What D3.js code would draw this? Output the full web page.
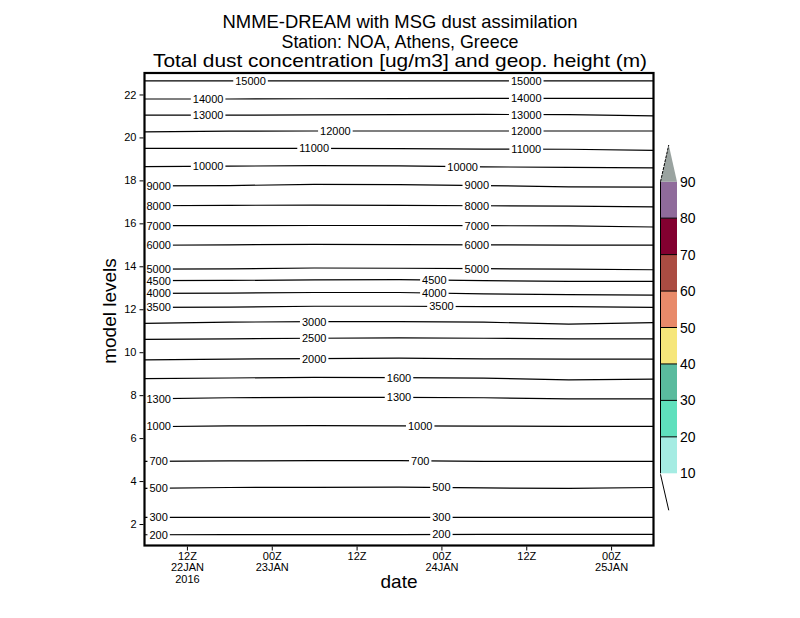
<!DOCTYPE html>
<html>
<head>
<meta charset="utf-8">
<script src="https://cdn.jsdelivr.net/npm/d3@7"></script>
<style>
  body { margin: 0; background: #fff; }
  svg text { font-family: "Liberation Sans", "DejaVu Sans", sans-serif; }
</style>
</head>
<body>
<script>
// sample times (12-hourly) and tick times
var sampleTimes = ["2016-01-22T06:00Z", "2016-01-22T18:00Z", "2016-01-23T06:00Z", "2016-01-23T18:00Z",
	"2016-01-24T06:00Z", "2016-01-24T18:00Z", "2016-01-25T06:00Z"].map(d => new Date(d));

var tickTimes = ["2016-01-22T12:00Z", "2016-01-23T00:00Z", "2016-01-23T12:00Z",
	"2016-01-24T00:00Z", "2016-01-24T12:00Z", "2016-01-25T00:00Z"].map(d => new Date(d));
var tickLabels = [["12Z", "22JAN", "2016"], ["00Z", "23JAN"], ["12Z"], ["00Z", "24JAN"], ["12Z"], ["00Z", "25JAN"]];

var levelTicks = [2, 4, 6, 8, 10, 12, 14, 16, 18, 20, 22];

// geopotential height contours: value, model level at each sample time
var contourValues = [15000, 14000, 13000, 12000, 11000, 10000, 9000, 8000, 7000, 6000, 5000,
	4500, 4000, 3500, 3000, 2500, 2000, 1600, 1300, 1000, 700, 500, 300, 200];

var contourLevels = [
	[22.63, 22.63, 22.63, 22.63, 22.63, 22.63, 22.63],
	[21.79, 21.79, 21.80, 21.81, 21.82, 21.82, 21.82],
	[21.04, 21.04, 21.05, 21.06, 21.07, 21.06, 21.00],
	[20.26, 20.29, 20.30, 20.30, 20.30, 20.30, 20.30],
	[19.49, 19.49, 19.49, 19.48, 19.46, 19.45, 19.40],
	[18.64, 18.66, 18.69, 18.68, 18.63, 18.61, 18.58],
	[17.74, 17.76, 17.81, 17.80, 17.76, 17.70, 17.69],
	[16.82, 16.84, 16.85, 16.84, 16.82, 16.80, 16.77],
	[15.89, 15.89, 15.90, 15.90, 15.89, 15.88, 15.83],
	[14.98, 15.00, 15.02, 15.01, 15.00, 14.99, 14.99],
	[13.87, 13.88, 13.92, 13.91, 13.89, 13.87, 13.84],
	[13.33, 13.34, 13.37, 13.38, 13.33, 13.30, 13.30],
	[12.74, 12.75, 12.78, 12.78, 12.72, 12.68, 12.66],
	[12.09, 12.10, 12.14, 12.14, 12.12, 12.12, 12.09],
	[11.34, 11.40, 11.42, 11.42, 11.40, 11.31, 11.38],
	[10.60, 10.62, 10.65, 10.67, 10.65, 10.62, 10.62],
	[9.64, 9.68, 9.70, 9.72, 9.69, 9.68, 9.68],
	[8.77, 8.80, 8.83, 8.82, 8.79, 8.71, 8.75],
	[7.83, 7.88, 7.90, 7.90, 7.88, 7.83, 7.83],
	[6.53, 6.57, 6.58, 6.57, 6.56, 6.55, 6.55],
	[4.92, 4.94, 4.95, 4.95, 4.92, 4.92, 4.92],
	[3.66, 3.70, 3.71, 3.72, 3.68, 3.66, 3.70],
	[2.31, 2.31, 2.31, 2.31, 2.31, 2.31, 2.31],
	[1.50, 1.51, 1.51, 1.51, 1.52, 1.52, 1.52]
];

// where the contour labels sit (hours after the first sample)
var labelHours = [
	[15.2, 54.1], [9.3, 54.1], [9.3, 54.1], [27.2, 54.1], [24.4, 54.1], [9.3, 45],
	[2.9, 47.8], [2.9, 47.8], [2.9, 47.8], [2.9, 47.8], [2.9, 47.8],
	[2.9, 41.4], [2.9, 41.4], [2.9, 42.1], [24.1], [24.1], [24.1], [36.1],
	[2.9, 36.1], [2.9, 39], [2.9, 39], [2.9, 42.1], [2.9, 42.1], [2.9, 42.1]
];

// dust concentration colour bar
var dustBreaks = [10, 20, 30, 40, 50, 60, 70, 80, 90];
var dustColors = ["#a5ece3", "#5fe0bd", "#5abb9e", "#f6e67a", "#e88a6a", "#ab4c42", "#830030", "#8f6b9b"];
var dustTopColor = "#9aa3a0";

var width = 800, height = 618;
var plot = {left: 144.5, right: 653.5, top: 73, bottom: 545.5};

var svg = d3.select("body").append("svg")
	.attr("width", width)
	.attr("height", height);

var x = d3.scaleUtc()
	.domain([sampleTimes[0], sampleTimes[sampleTimes.length - 1]])
	.range([plot.left, plot.right]);

var y = d3.scaleLinear()
	.domain([1, 23])
	.range([plot.bottom, plot.top]);

// title
var titleLines = ["NMME-DREAM with MSG dust assimilation", "Station: NOA, Athens, Greece",
	"Total dust concentration [ug/m3] and geop. height (m)"];
var titleWidths = [355, 237, 494];
svg.append("g").selectAll("text")
	.data(titleLines)
	.join("text")
		.attr("x", 400)
		.attr("y", (d, i) => 28 + i * 19.5)
		.attr("text-anchor", "middle")
		.attr("font-size", "18.5px")
		.attr("textLength", (d, i) => titleWidths[i])
		.attr("lengthAdjust", "spacingAndGlyphs")
		.text(d => d);

// contours
var lineGen = d3.line()
	.x((d, i) => x(sampleTimes[i]))
	.y(d => y(d));

var contours = svg.append("g").attr("class", "contours");

contourValues.forEach((v, k) => {
	contours.append("path")
		.datum(contourLevels[k])
		.attr("fill", "none")
		.attr("stroke", "black")
		.attr("stroke-width", 1.2)
		.attr("d", lineGen);
});

var levelAt = (k, h) => {
	var lv = contourLevels[k];
	var i = Math.min(Math.floor(h / 12), lv.length - 2);
	var t = (h - i * 12) / 12;
	return lv[i] * (1 - t) + lv[i + 1] * t;
};

var labels = svg.append("g").attr("class", "labels");
contourValues.forEach((v, k) => {
	labelHours[k].forEach(h => {
		var px = x(d3.utcHour.offset(sampleTimes[0], h));
		var py = y(levelAt(k, h));
		var g = labels.append("g").attr("transform", "translate(" + px + "," + py + ")");
		var bg = g.append("rect").attr("fill", "white");
		var t = g.append("text")
			.attr("text-anchor", "middle")
			.attr("dy", "0.36em")
			.attr("font-size", "11px")
			.text(v);
		var bb = t.node().getBBox();
		bg.attr("x", bb.x - 2).attr("y", -3).attr("width", bb.width + 4).attr("height", 6);
	});
});

// frame
svg.append("rect")
	.attr("x", plot.left)
	.attr("y", plot.top)
	.attr("width", plot.right - plot.left)
	.attr("height", plot.bottom - plot.top)
	.attr("fill", "none")
	.attr("stroke", "black")
	.attr("stroke-width", 2.2);

// y axis
var yAxis = svg.append("g")
	.attr("transform", translate(plot.left - 1, 0))
	.call(d3.axisLeft(y).tickValues(levelTicks).tickSize(4).tickPadding(3));
yAxis.select(".domain").remove();
yAxis.selectAll("text").attr("font-size", "11px").attr("font-family", null);

// x axis
var xAxis = svg.append("g")
	.attr("transform", translate(0, plot.bottom + 1))
	.call(d3.axisBottom(x).tickValues(tickTimes).tickSize(4).tickFormat(""));
xAxis.select(".domain").remove();
xAxis.selectAll(".tick").each(function(d, i) {
	d3.select(this).select("text").remove();
	d3.select(this).append("text")
		.attr("text-anchor", "middle")
		.attr("font-size", "11px")
		.attr("fill", "black")
		.selectAll("tspan")
		.data(tickLabels[i])
		.join("tspan")
			.attr("x", 0)
			.attr("y", (t, j) => 13 + j * 11.5)
			.text(t => t);
});

svg.append("text")
	.attr("x", 399)
	.attr("y", 588)
	.attr("text-anchor", "middle")
	.attr("font-size", "19px")
	.text("date");

svg.append("text")
	.attr("transform", translate(116, 311) + " rotate(-90)")
	.attr("text-anchor", "middle")
	.attr("font-size", "19px")
	.text("model levels");

// colour bar
var cb = {x: 660.5, w: 16.5};
var cy = d3.scaleLinear()
	.domain([10, 90])
	.range([473.3, 181.7]);

var bar = svg.append("g").attr("class", "colorbar");
bar.selectAll("rect")
	.data(dustColors)
	.join("rect")
		.attr("x", cb.x)
		.attr("y", (d, i) => cy(dustBreaks[i + 1]))
		.attr("width", cb.w)
		.attr("height", (d, i) => cy(dustBreaks[i]) - cy(dustBreaks[i + 1]))
		.attr("fill", d => d);

bar.append("path")
	.attr("d", "M" + cb.x + "," + cy(90) + "L" + (cb.x + cb.w / 2) + "," + (cy(90) - 36.7) + "L" + (cb.x + cb.w) + "," + cy(90) + "Z")
	.attr("fill", dustTopColor);
bar.append("path")
	.attr("d", "M" + cb.x + "," + cy(90) + "L" + (cb.x + cb.w / 2) + "," + (cy(90) - 36.7))
	.attr("fill", "none")
	.attr("stroke", "black")
	.attr("stroke-width", 1)
	.attr("stroke-dasharray", "3,1");

bar.selectAll("line.sep")
	.data(dustBreaks.slice(1, -1))
	.join("line")
		.attr("class", "sep")
		.attr("x1", cb.x)
		.attr("x2", cb.x + cb.w)
		.attr("y1", d => cy(d))
		.attr("y2", d => cy(d))
		.attr("stroke", "black")
		.attr("stroke-width", 1);

bar.append("line")
	.attr("x1", cb.x).attr("x2", cb.x)
	.attr("y1", cy(90)).attr("y2", cy(10))
	.attr("stroke", "black");

bar.append("line")
	.attr("x1", cb.x).attr("y1", cy(10) + 1)
	.attr("x2", cb.x + cb.w / 2).attr("y2", cy(10) + 37)
	.attr("stroke", "black");

bar.selectAll("text")
	.data(dustBreaks)
	.join("text")
		.attr("x", 680)
		.attr("y", d => cy(d))
		.attr("dy", "0.36em")
		.attr("font-size", "14px")
		.text(d => d);

function translate(a, b) {
	return "translate(" + a + "," + b + ")";
}
</script>
</body>
</html>
